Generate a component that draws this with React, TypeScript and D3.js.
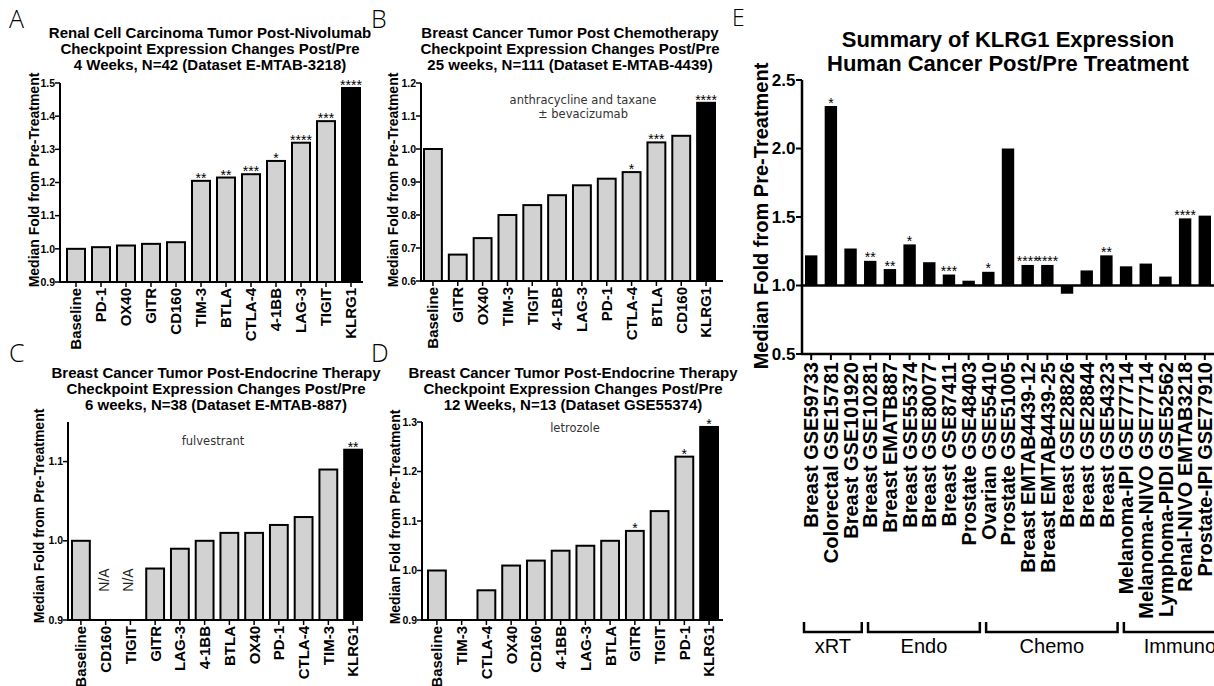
import React from 'react';
import * as d3 from 'd3';

const SANS = '"Liberation Sans", Arial, Helvetica, sans-serif';
const THIN = '"Open Sans", "DejaVu Sans", sans-serif';
const NOTE = '"DejaVu Sans", Verdana, sans-serif';

// A: renal cell carcinoma, nivolumab
const catsA = ['Baseline', 'PD-1', 'OX40', 'GITR', 'CD160', 'TIM-3', 'BTLA', 'CTLA-4', '4-1BB', 'LAG-3', 'TIGIT', 'KLRG1'];
const valsA = [1.0, 1.005, 1.01, 1.015, 1.02, 1.205, 1.215, 1.225, 1.265, 1.32, 1.385, 1.485];
const starsA = ['', '', '', '', '', '**', '**', '***', '*', '****', '***', '****'];
const ticksA = [0.9, 1.0, 1.1, 1.2, 1.3, 1.4, 1.5];

// B: breast cancer, chemotherapy
const catsB = ['Baseline', 'GITR', 'OX40', 'TIM-3', 'TIGIT', '4-1BB', 'LAG-3', 'PD-1', 'CTLA-4', 'BTLA', 'CD160', 'KLRG1'];
const valsB = [1.0, 0.68, 0.73, 0.8, 0.83, 0.86, 0.89, 0.91, 0.93, 1.02, 1.04, 1.14];
const starsB = ['', '', '', '', '', '', '', '', '*', '***', '', '****'];
const ticksB = [0.6, 0.7, 0.8, 0.9, 1.0, 1.1, 1.2];

// C: breast cancer, fulvestrant (null = not available)
const catsC = ['Baseline', 'CD160', 'TIGIT', 'GITR', 'LAG-3', '4-1BB', 'BTLA', 'OX40', 'PD-1', 'CTLA-4', 'TIM-3', 'KLRG1'];
const valsC = [1.0, null, null, 0.965, 0.99, 1.0, 1.01, 1.01, 1.02, 1.03, 1.09, 1.115];
const starsC = ['', '', '', '', '', '', '', '', '', '', '', '**'];
const ticksC = [0.9, 1.0, 1.1];

// D: breast cancer, letrozole
const catsD = ['Baseline', 'TIM-3', 'CTLA-4', 'OX40', 'CD160', '4-1BB', 'LAG-3', 'BTLA', 'GITR', 'TIGIT', 'PD-1', 'KLRG1'];
const valsD = [1.0, null, 0.96, 1.01, 1.02, 1.04, 1.05, 1.06, 1.08, 1.12, 1.23, 1.29];
const starsD = ['', '', '', '', '', '', '', '', '*', '', '*', '*'];
const ticksD = [0.9, 1.0, 1.1, 1.2, 1.3];

// E: KLRG1 summary
const catsE = [
  'Breast GSE59733', 'Colorectal GSE15781', 'Breast GSE101920', 'Breast GSE10281', 'Breast EMATB887',
  'Breast GSE55374', 'Breast GSE80077', 'Breast GSE87411', 'Prostate GSE48403', 'Ovarian GSE55410',
  'Prostate GSE51005', 'Breast EMTAB4439-12', 'Breast EMTAB4439-25', 'Breast GSE28826', 'Breast GSE28844',
  'Breast GSE54323', 'Melanoma-IPI GSE77714', 'Melanoma-NIVO GSE77714', 'Lymphoma-PIDI GSE52562',
  'Renal-NIVO EMTAB3218', 'Prostate-IPI GSE77910',
];
const valsE = [1.22, 2.31, 1.27, 1.18, 1.12, 1.3, 1.17, 1.08, 1.035, 1.1, 2.0, 1.15, 1.15, 0.94, 1.11, 1.22, 1.14, 1.16, 1.065, 1.49, 1.51];
const starsE = ['', '*', '', '**', '**', '*', '', '***', '', '*', '', '****', '****', '', '', '**', '', '', '', '****', ''];
const ticksE = [0.5, 1.0, 1.5, 2.0, 2.5];
const groupsE = [
  { name: 'xRT', from: 0, to: 2 },
  { name: 'Endo', from: 3, to: 8 },
  { name: 'Chemo', from: 9, to: 15 },
  { name: 'Immuno', from: 16, to: 20 },
];

const Panel = (props) => {
  const { letter, lx, ly, title, tx, ty, ax, top, bottom, end, b0, b1, domain, ticks, cats, vals, stars, note, na, ylx, yly } = props;
  const x = d3.scaleBand().domain(cats).range([b0, b1]).paddingInner(0.28).paddingOuter(0);
  const y = d3.scaleLinear().domain(domain).range([bottom, top]);
  const bw = x.bandwidth();
  return (
    <g>
      <text x={lx} y={ly} fontFamily={THIN} fontWeight={300} fontSize={25}>{letter}</text>
      {title.map((t, i) => (
        <text key={i} x={tx} y={ty + i * 16} textAnchor="middle" fontFamily={SANS} fontWeight="bold" fontSize={15}>{t}</text>
      ))}
      <text transform={`translate(${ylx},${yly}) rotate(-90)`} textAnchor="middle" fontFamily={SANS} fontWeight="bold" fontSize={14}>
        Median Fold from Pre-Treatment
      </text>
      {cats.map((c, i) => {
        const v = vals[i];
        if (v == null) return null;
        const yt = y(v);
        return (
          <rect key={c} x={x(c)} y={yt} width={bw} height={bottom - yt}
            fill={c === 'KLRG1' ? '#000' : '#d2d2d2'} stroke="#000" strokeWidth={2} />
        );
      })}
      {cats.map((c, i) => (stars[i] && vals[i] != null ? (
        <text key={'s' + c} x={x(c) + bw / 2} y={y(vals[i]) + 2} textAnchor="middle" fontFamily={SANS} fontSize={14} fill="#000">{stars[i]}</text>
      ) : null))}
      <line x1={ax} x2={ax} y1={top} y2={bottom} stroke="#000" strokeWidth={2} />
      <line x1={ax - 1} x2={end} y1={bottom} y2={bottom} stroke="#000" strokeWidth={2} />
      {ticks.map((t) => (
        <g key={t}>
          <line x1={ax - 5} x2={ax} y1={y(t)} y2={y(t)} stroke="#000" strokeWidth={1.5} />
          <text x={ax - 5} y={y(t)} dy="0.35em" textAnchor="end" fontFamily={SANS} fontWeight="bold" fontSize={10.5}>{d3.format('.1f')(t)}</text>
        </g>
      ))}
      {cats.map((c) => (
        <g key={'x' + c}>
          <line x1={x(c) + bw / 2} x2={x(c) + bw / 2} y1={bottom} y2={bottom + 5} stroke="#000" strokeWidth={1.5} />
          <text transform={`translate(${x(c) + bw / 2},${bottom + 6}) rotate(-90)`} dy="0.36em" textAnchor="end"
            fontFamily={SANS} fontWeight="bold" fontSize={15}>{c}</text>
        </g>
      ))}
      {note && note.lines.map((t, i) => (
        <text key={'n' + i} x={note.x} y={note.y + i * 14} textAnchor="middle" fontFamily={NOTE} fontSize={11.5} fill="#333">{t}</text>
      ))}
      {na && cats.map((c, i) => (vals[i] == null ? (
        <text key={'na' + c} transform={`translate(${x(c) + bw / 2 - 2},${na}) rotate(-90)`} dy="0.35em" textAnchor="middle"
          fontFamily={SANS} fontSize={14} fill="#222">N/A</text>
      ) : null))}
    </g>
  );
};

const Summary = () => {
  const ax = 802;
  const top = 80;
  const bottom = 354;
  const x = d3.scaleBand().domain(catsE).range([805, 1211]).paddingInner(0.37).paddingOuter(0);
  const y = d3.scaleLinear().domain([0.5, 2.5]).range([bottom, top]);
  const bw = x.bandwidth();
  const y1 = y(1);
  return (
    <g>
      <text x={732} y={26} fontFamily={THIN} fontWeight={300} fontSize={23}>E</text>
      <text x={1008} y={47} textAnchor="middle" fontFamily={SANS} fontWeight="bold" fontSize={22}>Summary of KLRG1 Expression</text>
      <text x={1008} y={71} textAnchor="middle" fontFamily={SANS} fontWeight="bold" fontSize={22}>Human Cancer Post/Pre Treatment</text>
      <text transform="translate(768,216) rotate(-90)" textAnchor="middle" fontFamily={SANS} fontWeight="bold" fontSize={20}>
        Median Fold from Pre-Treatment
      </text>
      {catsE.map((c, i) => {
        const yv = y(valsE[i]);
        return <rect key={c} x={x(c)} y={Math.min(yv, y1)} width={bw} height={Math.abs(yv - y1)} fill="#000" />;
      })}
      {catsE.map((c, i) => (starsE[i] ? (
        <text key={'s' + c} x={x(c) + bw / 2} y={y(valsE[i]) + 1.5} textAnchor="middle" fontFamily={SANS} fontSize={14} fill="#000">{starsE[i]}</text>
      ) : null))}
      <line x1={ax} x2={ax} y1={top} y2={bottom} stroke="#000" strokeWidth={2.5} />
      <line x1={ax} x2={1214} y1={y1} y2={y1} stroke="#000" strokeWidth={2.5} />
      <line x1={ax - 1} x2={1214} y1={bottom} y2={bottom} stroke="#000" strokeWidth={2.5} />
      {ticksE.map((t) => (
        <g key={t}>
          <line x1={ax - 6} x2={ax} y1={y(t)} y2={y(t)} stroke="#000" strokeWidth={2} />
          <text x={ax - 6.5} y={y(t)} dy="0.35em" textAnchor="end" fontFamily={SANS} fontWeight="bold" fontSize={17}>{d3.format('.1f')(t)}</text>
        </g>
      ))}
      {catsE.map((c) => (
        <g key={'x' + c}>
          <line x1={x(c) + bw / 2} x2={x(c) + bw / 2} y1={bottom} y2={bottom + 6} stroke="#000" strokeWidth={2} />
          <text transform={`translate(${x(c) + bw / 2},${bottom + 8}) rotate(-90)`} dy="0.36em" textAnchor="end"
            fontFamily={SANS} fontWeight="bold" fontSize={20}>{c}</text>
        </g>
      ))}
      {groupsE.map((g, i) => {
        const s = x(catsE[g.from]) + (i === 0 ? -1 : 4);
        const e = i === groupsE.length - 1 ? x(catsE[g.to]) + bw + 25 : x(catsE[g.to]) + bw + 5;
        return (
          <g key={g.name}>
            <path d={`M${s},622V632H${e}V622`} fill="none" stroke="#000" strokeWidth={2.5} />
            <text x={(s + e) / 2} y={653} textAnchor="middle" fontFamily={SANS} fontSize={20}>{g.name}</text>
          </g>
        );
      })}
    </g>
  );
};

export default function App() {
  return (
    <svg width={1214} height={686} style={{ position: 'absolute', left: 0, top: 0, background: '#fff' }}>
      <Panel letter="A" lx={9} ly={28} tx={210} ty={38}
        title={['Renal Cell Carcinoma Tumor Post-Nivolumab', 'Checkpoint Expression Changes Post/Pre', '4 Weeks, N=42 (Dataset E-MTAB-3218)']}
        ax={60} top={83} bottom={282} end={363} b0={67} b1={360} domain={[0.9, 1.5]} ticks={ticksA}
        cats={catsA} vals={valsA} stars={starsA} ylx={39} yly={180} />
      <Panel letter="B" lx={371} ly={28} tx={570} ty={38}
        title={['Breast Cancer Tumor Post Chemotherapy', 'Checkpoint Expression Changes Post/Pre', '25 weeks, N=111 (Dataset E-MTAB-4439)']}
        ax={421} top={83} bottom={281} end={723} b0={424} b1={715} domain={[0.6, 1.2]} ticks={ticksB}
        cats={catsB} vals={valsB} stars={starsB} ylx={398} yly={180}
        note={{ x: 583, y: 104, lines: ['anthracycline and taxane', '± bevacizumab'] }} />
      <Panel letter="C" lx={9} ly={362} tx={216} ty={378}
        title={['Breast Cancer Tumor Post-Endocrine Therapy', 'Checkpoint Expression Changes Post/Pre', '6 weeks, N=38 (Dataset E-MTAB-887)']}
        ax={68} top={422} bottom={620} end={363} b0={72} b1={362} domain={[0.9, 1.15]} ticks={ticksC}
        cats={catsC} vals={valsC} stars={starsC} ylx={44} yly={516}
        note={{ x: 213, y: 445, lines: ['fulvestrant'] }} na={580} />
      <Panel letter="D" lx={371} ly={362} tx={573} ty={378}
        title={['Breast Cancer Tumor Post-Endocrine Therapy', 'Checkpoint Expression Changes Post/Pre', '12 Weeks, N=13 (Dataset GSE55374)']}
        ax={422} top={422} bottom={620} end={723} b0={428} b1={718} domain={[0.9, 1.3]} ticks={ticksD}
        cats={catsD} vals={valsD} stars={starsD} ylx={400} yly={517}
        note={{ x: 575, y: 432, lines: ['letrozole'] }} />
      <Summary />
    </svg>
  );
}
